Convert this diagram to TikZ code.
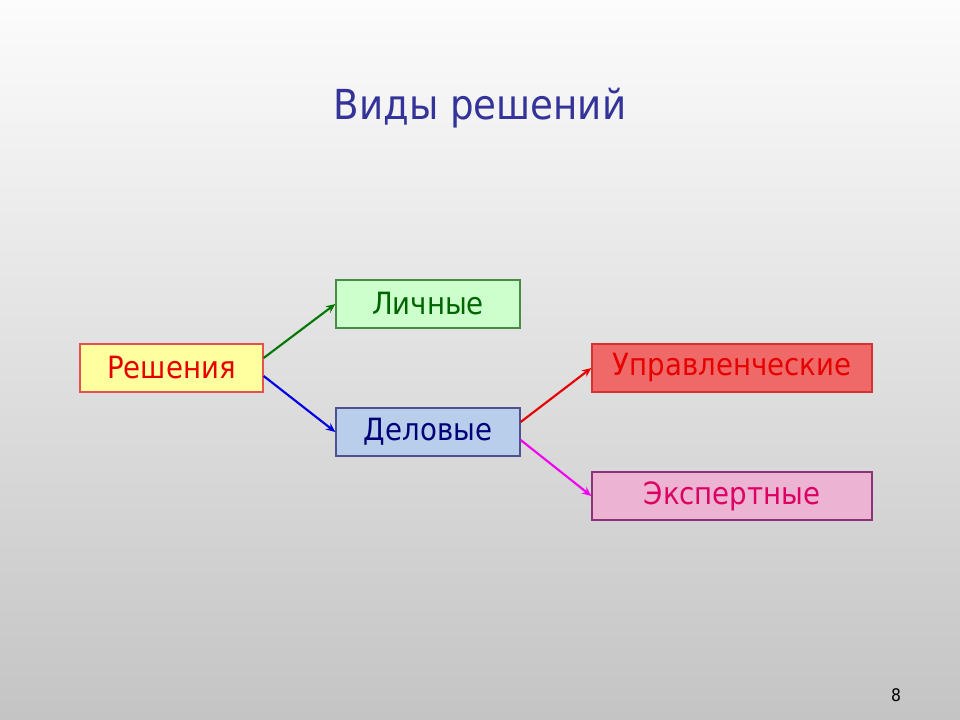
\documentclass[tikz,border=0pt]{standalone}
\usepackage{fontspec}
\setmainfont{DejaVu Sans Condensed}
\usetikzlibrary{arrows.meta}
\definecolor{bgtop}{RGB}{252,252,252}
\definecolor{bgbot}{RGB}{196,196,196}
\definecolor{titleblue}{RGB}{51,51,153}
\tikzset{
  box/.style={draw, line width=1pt, minimum height=48*0.75pt, inner sep=0pt, font=\fontsize{23}{27}\selectfont},
  conn/.style={line width=1.6pt, -{Stealth[length=7pt,width=6pt]}},
}
\begin{document}
\begin{tikzpicture}[x=0.75pt,y=-0.75pt]
\shade[top color=bgtop, bottom color=bgbot] (0,0) rectangle (960,720);
\useasboundingbox (0,0) rectangle (960,720);
\node[text=titleblue, font=\fontsize{31}{36}\selectfont] (title) at (480,108) {Виды решений};
\node[box, minimum width=183*0.75pt, draw={rgb,255:red,230;green,80;blue,80}, fill={rgb,255:red,255;green,255;blue,160}, text={rgb,255:red,230;green,0;blue,0}] (resh) at (171.5,368) {Решения};
\node[box, minimum width=184*0.75pt, draw={rgb,255:red,70;green,140;blue,70}, fill={rgb,255:red,204;green,255;blue,204}, text={rgb,255:red,0;green,100;blue,0}] (lich) at (428,304) {Личные};
\node[box, minimum width=184*0.75pt, draw={rgb,255:red,80;green,80;blue,140}, fill={rgb,255:red,184;green,206;blue,234}, text={rgb,255:red,0;green,0;blue,120}] (delo) at (428,432) {Деловые};
\node[box, minimum width=280*0.75pt, draw={rgb,255:red,215;green,50;blue,50}, fill={rgb,255:red,240;green,105;blue,105}, text={rgb,255:red,230;green,0;blue,0}] (upr) at (732,368) {Управленческие};
\node[box, minimum width=280*0.75pt, draw={rgb,255:red,140;green,50;blue,120}, fill={rgb,255:red,236;green,180;blue,210}, text={rgb,255:red,220;green,0;blue,100}] (eksp) at (732,496) {Экспертные};
\node[font=\fontsize{13}{15}\selectfont] (num) at (896,695) {8};
\draw[conn, draw={rgb,255:red,0;green,120;blue,0}, fill={rgb,255:red,0;green,120;blue,0}] (resh.east |- 0,358) -- (lich.west);
\draw[conn, draw={rgb,255:red,0;green,0;blue,230}, fill={rgb,255:red,0;green,0;blue,230}] (resh.east |- 0,376) -- (delo.west);
\draw[conn, draw={rgb,255:red,230;green,0;blue,0}, fill={rgb,255:red,230;green,0;blue,0}] (delo.east |- 0,422) -- (upr.west);
\draw[conn, draw={rgb,255:red,240;green,0;blue,240}, fill={rgb,255:red,240;green,0;blue,240}] (delo.east |- 0,440) -- (eksp.west);
\end{tikzpicture}
\end{document}
